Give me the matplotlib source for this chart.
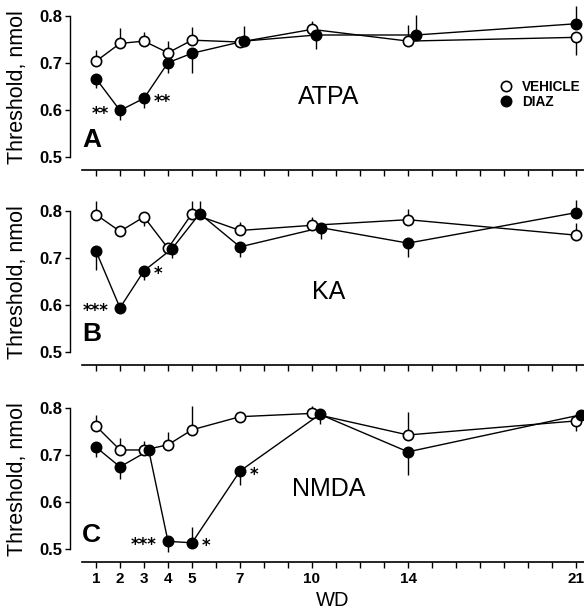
import matplotlib
matplotlib.use("Agg")
import matplotlib.pyplot as plt
from matplotlib.lines import Line2D
import numpy as np

plt.rcParams['font.family'] = ['Liberation Sans', 'DejaVu Sans']

# Withdrawal days (WD)
wd = [1, 2, 3, 4, 5, 7, 10, 14, 21]
wd_ticks = list(range(1, 22))
wd_labels = ['1', '2', '3', '4', '5', '7', '10', '14', '21']

# Panel A: ATPA
atpa_vehicle = [0.704, 0.742, 0.747, 0.722, 0.749, 0.745, 0.772, 0.747, 0.755]
atpa_vehicle_err = [0.023, 0.033, 0.019, 0.026, 0.028, 0.005, 0.018, 0.034, 0.038]
atpa_vehicle_dir = [1, 1, 1, 1, 1, 1, 1, 1, -1]
atpa_diaz = [0.667, 0.599, 0.625, 0.701, 0.721, 0.747, 0.760, 0.760, 0.784]
atpa_diaz_err = [0.020, 0.020, 0.020, 0.023, 0.041, 0.033, 0.030, 0.043, 0.037]
atpa_diaz_dir = [-1, -1, -1, -1, -1, 1, -1, 1, 1]
atpa_diaz_nudge = [0, 0, 0, 0, 0, 0.17, 0.17, 0.33, 0]

# Panel B: KA
ka_vehicle = [0.793, 0.757, 0.788, 0.721, 0.795, 0.759, 0.770, 0.782, 0.749]
ka_vehicle_err = [0.028, 0.010, 0.020, 0.012, 0.027, 0.018, 0.017, 0.023, 0.026]
ka_vehicle_dir = [1, 1, -1, 1, 1, 1, 1, 1, 1]
ka_diaz = [0.715, 0.594, 0.673, 0.720, 0.795, 0.724, 0.765, 0.732, 0.797]
ka_diaz_err = [0.040, 0.005, 0.019, 0.020, 0.026, 0.022, 0.025, 0.029, 0.026]
ka_diaz_dir = [-1, -1, -1, -1, 1, -1, -1, -1, 1]
ka_diaz_nudge = [0, 0, 0, 0.17, 0.32, 0, 0.37, 0, 0]

# Panel C: NMDA
nmda_vehicle = [0.762, 0.711, 0.711, 0.722, 0.754, 0.782, 0.789, 0.743, 0.773]
nmda_vehicle_err = [0.023, 0.026, 0.020, 0.027, 0.051, 0.008, 0.016, 0.048, 0.021]
nmda_vehicle_dir = [1, 1, 1, 1, 1, 1, 1, 1, -1]
nmda_diaz = [0.717, 0.675, 0.710, 0.516, 0.513, 0.666, 0.787, 0.707, 0.786]
nmda_diaz_err = [0.022, 0.026, 0.010, 0.023, 0.033, 0.030, 0.021, 0.050, 0.010]
nmda_diaz_dir = [-1, -1, -1, -1, 1, -1, -1, -1, 1]
nmda_diaz_nudge = [0, 0, 0.2, 0, 0, 0, 0.33, 0, 0.2]

panels = [
    ('A', 'ATPA', atpa_vehicle, atpa_vehicle_err, atpa_vehicle_dir,
     atpa_diaz, atpa_diaz_err, atpa_diaz_dir, atpa_diaz_nudge),
    ('B', 'KA', ka_vehicle, ka_vehicle_err, ka_vehicle_dir,
     ka_diaz, ka_diaz_err, ka_diaz_dir, ka_diaz_nudge),
    ('C', 'NMDA', nmda_vehicle, nmda_vehicle_err, nmda_vehicle_dir,
     nmda_diaz, nmda_diaz_err, nmda_diaz_dir, nmda_diaz_nudge),
]

# Significance marks: (panel, WD index, text, side)
stars = [
    ('A', 1, '**', 'left'), ('A', 2, '**', 'right'),
    ('B', 1, '***', 'left'), ('B', 2, '*', 'right'),
    ('C', 3, '***', 'left'), ('C', 4, '*', 'right'), ('C', 5, '*', 'right'),
]

W, H = 584, 613
fig = plt.figure(figsize=(W / 100, H / 100), dpi=100)

# axes boxes in pixels: (left, top, right, bottom)
boxes = [(82, 5, 584, 170), (82, 200, 584, 365), (82, 397, 584, 562)]

lw = 1.0
ms = 7.4


def one_sided(err, direction):
    err = np.asarray(err)
    d = np.asarray(direction)
    lower = np.where(d < 0, err, 0)
    upper = np.where(d > 0, err, 0)
    return [lower, upper]


axes = {}
for (letter, agent, veh, veh_e, veh_d, dz, dz_e, dz_d, nudge), box in zip(panels, boxes):
    l, t, r, b = box
    ax = fig.add_axes([l / W, 1 - b / H, (r - l) / W, (b - t) / H])
    axes[letter] = ax
    x = np.asarray(wd, dtype=float)
    xd = x + np.asarray(nudge)

    ax.errorbar(x, veh, yerr=one_sided(veh_e, veh_d), fmt='none',
                ecolor='black', elinewidth=lw, capsize=0, zorder=2)
    ax.errorbar(xd, dz, yerr=one_sided(dz_e, dz_d), fmt='none',
                ecolor='black', elinewidth=lw, capsize=0, zorder=2)
    ax.plot(x, veh, '-', color='black', lw=lw, zorder=3)
    ax.plot(xd, dz, '-', color='black', lw=lw, zorder=3)
    ax.plot(x, veh, 'o', ms=ms, mfc='white', mec='black', mew=1.2, zorder=4,
            clip_on=False)
    ax.plot(xd, dz, 'o', ms=ms, mfc='black', mec='black', mew=1.2, zorder=5,
            clip_on=False)

    ax.set_xlim(1 - 14 / 24, 21 + 8 / 24)
    ax.set_ylim(0.472, 0.824)

    for s in ('top', 'right'):
        ax.spines[s].set_visible(False)
    ax.spines['left'].set_bounds(0.5, 0.8)
    ax.spines['left'].set_position(('outward', 8.6))
    ax.spines['left'].set_linewidth(1.0)
    ax.spines['bottom'].set_linewidth(1.2)

    ax.set_yticks([0.5, 0.6, 0.7, 0.8])
    ax.set_yticklabels(['0.5', '0.6', '0.7', '0.8'], fontsize=12,
                       fontweight='bold')
    ax.set_xticks(wd_ticks)
    if letter == 'C':
        ax.set_xticklabels([str(v) if str(v) in wd_labels else '' for v in wd_ticks],
                           fontsize=11, fontweight='bold')
        ax.set_xlabel('WD', fontsize=14.5, labelpad=3)
    else:
        ax.set_xticklabels([])
    ax.tick_params(axis='y', length=3.5, width=1.0, pad=2)
    ax.tick_params(axis='x', length=4.5, width=1.0, pad=3)

    ax.set_ylabel('Threshold, nmol', fontsize=15.5)
    ax.yaxis.set_label_coords(-0.108, 0.5)

    ax.text(0.42, {'A': 0.536, 'B': 0.539, 'C': 0.530}[letter], letter,
            fontsize=19, fontweight='bold', ha='left', va='center')
    ax.text(10.7, 0.627, agent, fontsize=18, ha='center', va='center')

    # significance asterisks
    for pl, idx, txt, side in stars:
        if pl != letter:
            continue
        xx = xd[idx]
        yy = dz[idx]
        if side == 'left':
            ax.annotate(txt, (xx, yy), xytext=(-8, -2.5), textcoords='offset points',
                        ha='right', va='center', fontsize=12, fontweight='bold',
                        family='DejaVu Sans')
        else:
            ax.annotate(txt, (xx, yy), xytext=(7, -2.5), textcoords='offset points',
                        ha='left', va='center', fontsize=12, fontweight='bold',
                        family='DejaVu Sans')

# legend in panel A
handles = [
    Line2D([], [], marker='o', ls='none', ms=ms, mfc='white', mec='black', mew=1.2),
    Line2D([], [], marker='o', ls='none', ms=ms, mfc='black', mec='black', mew=1.2),
]
axes['A'].legend(handles, ['VEHICLE', 'DIAZ'], loc='upper left',
                 bbox_to_anchor=((501 - 82) / 502, (170 - 80) / 165),
                 frameon=False, handlelength=0.8, handletextpad=0.75,
                 labelspacing=0.05, borderpad=0, borderaxespad=0,
                 prop={'weight': 'bold', 'size': 9.8})

fig.savefig('out.png', dpi=100)
